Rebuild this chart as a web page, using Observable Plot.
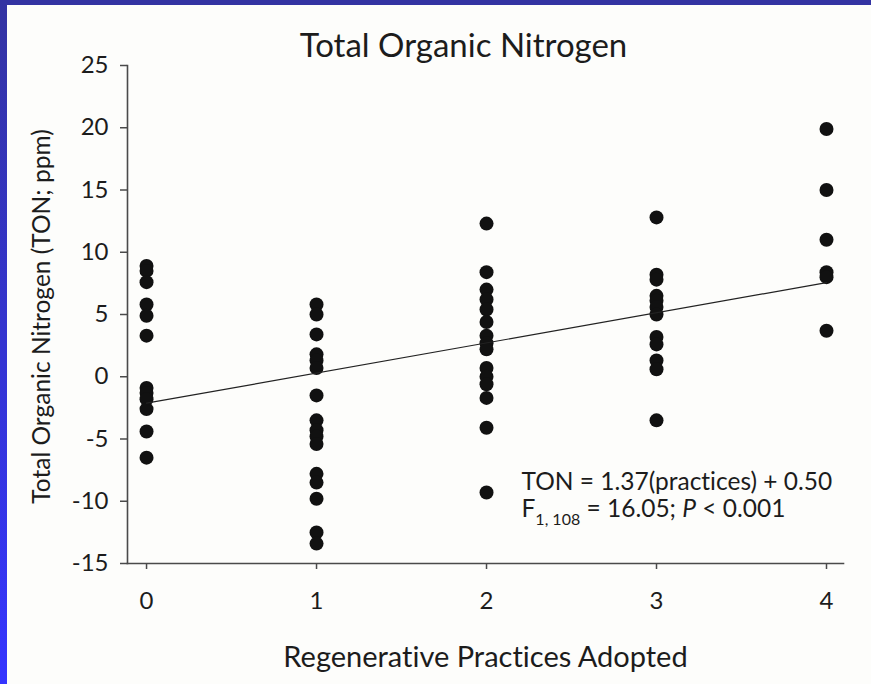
<!DOCTYPE html>
<html>
<head>
<meta charset="utf-8">
<script src="https://cdn.jsdelivr.net/npm/d3@7"></script>
<script src="https://cdn.jsdelivr.net/npm/@observablehq/plot@0.6"></script>
<style>
  html, body { margin: 0; padding: 0; }
  body { width: 871px; height: 684px; position: relative; overflow: hidden; background: #fdfdfb; }
  #chart { position: absolute; left: 0; top: 0; }
  #chart svg { font-variant-ligatures: none; }
  #edge-top { position: absolute; left: 0; top: 0; width: 871px; height: 5px; background: #3333a2; }
  #edge-left { position: absolute; left: 0; top: 0; width: 7px; height: 684px; background: linear-gradient(#3333a2, #3535ff); }
</style>
</head>
<body>
<div id="chart"></div>
<div id="edge-top"></div>
<div id="edge-left"></div>
<script>
// Number of regenerative practices adopted (x categories)
const practices = [0, 1, 2, 3, 4];

// Total organic nitrogen (ppm) for farms in each practice group
const ton0 = [8.9, 8.5, 7.6, 5.8, 4.9, 3.3, -0.9, -1.3, -1.8, -2.6, -4.4, -6.5];
const ton1 = [5.8, 5.0, 3.4, 1.8, 1.3, 0.7, -1.5, -3.5, -4.3, -4.8, -5.4, -7.8, -8.5, -9.8, -12.5, -13.4];
const ton2 = [12.3, 8.4, 7.0, 6.2, 5.4, 4.4, 3.3, 2.7, 2.2, 0.7, 0.0, -0.6, -1.7, -4.1, -9.3];
const ton3 = [12.8, 8.2, 7.8, 6.5, 6.1, 5.6, 5.0, 3.2, 2.6, 1.3, 0.6, -3.5];
const ton4 = [19.9, 15.0, 11.0, 8.4, 8.0, 3.7];

// Axis ticks and text
const xTicks = [0, 1, 2, 3, 4];
const yTicks = [-15, -10, -5, 0, 5, 10, 15, 20, 25];
const titleText = "Total Organic Nitrogen";
const xLabel = "Regenerative Practices Adopted";
const yLabel = "Total Organic Nitrogen (TON; ppm)";
const equationText = "TON = 1.37(practices) + 0.50";
const statsText = "F1, 108 = 16.05; P < 0.001";

const groups = [ton0, ton1, ton2, ton3, ton4];
const points = practices.flatMap((p, i) => groups[i].map(v => ({practices: p, ton: v})));

const ink = "#1c1c1c";
const axisInk = "#4a4a4a";
const font = "Lato, 'Open Sans', sans-serif";

const chart = Plot.plot({
  width: 871,
  height: 684,
  marginLeft: 127,
  marginRight: 28,
  marginTop: 65,
  marginBottom: 121,
  style: {background: "transparent", fontFamily: font, color: ink, overflow: "visible"},
  x: {domain: [-0.112, 4.1]},
  y: {domain: [-15, 25]},
  marks: [
    Plot.frame({anchor: "left", stroke: axisInk, strokeWidth: 1.6}),
    Plot.frame({anchor: "bottom", stroke: axisInk, strokeWidth: 1.6}),
    Plot.axisY(yTicks, {
      tickSize: 7, tickPadding: 12, fontSize: 24, stroke: axisInk, strokeWidth: 1.5,
      tickFormat: d => String(d), label: null, fill: ink
    }),
    Plot.axisX(xTicks, {
      tickSize: 6, tickPadding: 22, fontSize: 24, stroke: axisInk, strokeWidth: 1.5,
      tickFormat: d => String(d), label: null, fill: ink
    }),
    Plot.dot(points, {x: "practices", y: "ton", r: 7, fill: "#111"}),
    Plot.linearRegressionY(points, {x: "practices", y: "ton", ci: 0, stroke: "#222", strokeWidth: 1.2}),
    Plot.text([titleText], {text: d => d, frameAnchor: "top", lineAnchor: "middle", dx: -22, dy: -19, fontSize: 33, fill: ink}),
    Plot.text([xLabel], {text: d => d, frameAnchor: "bottom", lineAnchor: "middle", dy: 94, fontSize: 29, fill: ink}),
    Plot.text([yLabel], {text: d => d, frameAnchor: "left", textAnchor: "middle", lineAnchor: "middle", dx: -85, dy: 2, rotate: -90, fontSize: 24.5, fill: ink}),
    Plot.text([equationText], {text: d => d, frameAnchor: "bottom-left", textAnchor: "start", lineAnchor: "middle", dx: 394, dy: -81, fontSize: 24.5, fill: ink}),
    Plot.text([statsText], {text: d => d, frameAnchor: "bottom-left", textAnchor: "start", lineAnchor: "middle", dx: 394, dy: -54, fontSize: 24.5, fill: ink, className: "stats-line"})
  ]
});

// Rebuild the F-statistic line so the degrees of freedom sit as a subscript and P is italic
d3.select(chart).selectAll(".stats-line text").each(function() {
  const t = d3.select(this);
  t.text(null);
  t.append("tspan").text("F");
  t.append("tspan").attr("font-size", 16).attr("dy", 8).text("1, 108");
  t.append("tspan").attr("dy", -8).text(" = 16.05; ");
  t.append("tspan").attr("font-style", "italic").text("P");
  t.append("tspan").text(" < 0.001");
});

document.getElementById("chart").appendChild(chart);
</script>
</body>
</html>
